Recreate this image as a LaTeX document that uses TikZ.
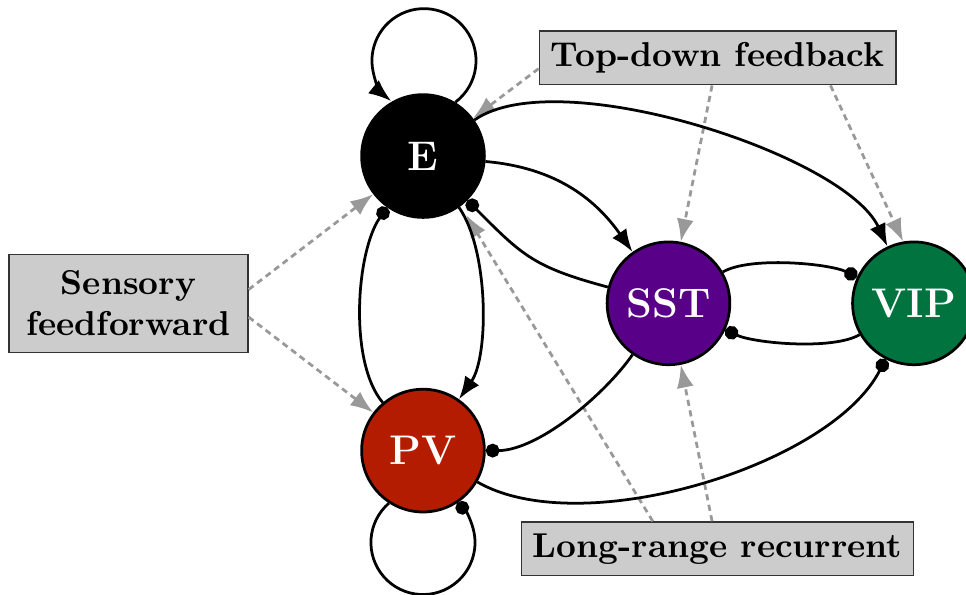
\documentclass[tikz,border=0pt]{standalone}
\usetikzlibrary{arrows.meta,positioning}
\definecolor{pvred}{RGB}{180,28,0}
\definecolor{sstpurple}{RGB}{88,0,136}
\definecolor{vipgreen}{RGB}{0,115,62}

\begin{document}
\begin{tikzpicture}[
  cell/.style={circle,draw,thick,minimum size=1.25cm,inner sep=0pt,text=white,font=\large\bfseries},
  inputbox/.style={draw=black!80,fill=gray!40,font=\bfseries},
  exc/.style={thick,-{Latex}},
  inh/.style={thick,-{Circle[length=4pt]}},
  ext/.style={thick,dash pattern=on 1.8pt off 1.3pt,gray!80,-{Latex}}
]
\useasboundingbox (-4.308,-4.47) rectangle (5.53,1.589);

\node[cell,fill=black] (E) at (0,0) {E};
\node[cell,fill=pvred] (PV) at (0,-3) {PV};
\node[cell,fill=sstpurple] (SST) at (2.5,-1.5) {SST};
\node[cell,fill=vipgreen] (VIP) at (5,-1.5) {VIP};

\node[inputbox,text width=2.2cm,align=center,minimum height=1cm] (sens) at (-3,-1.5) {Sensory\\feedforward};
\node[inputbox] (top) at (3,1) {Top-down feedback};
\node[inputbox] (long) at (3,-4) {Long-range recurrent};

\draw[ext] ([yshift=0.14cm]sens.east) -- (E);
\draw[ext] ([yshift=-0.14cm]sens.east) -- (PV);
\draw[ext] ([yshift=-0.11cm]top.west) -- (E);
\draw[ext] (top) -- (SST);
\draw[ext] ([xshift=1.15cm]top.south) -- (VIP.100);
\draw[ext,shorten >=3pt] ([xshift=-0.66cm]long.north) -- (E.-53);
\draw[ext] (long) -- (SST);

\draw[exc] (E.59) arc[start angle=-53,end angle=231,radius=0.53];
\draw[inh] (PV.-123) arc[start angle=131,end angle=409,radius=0.53];

\foreach \a/\b/\o/\i/\l in {E/SST/-5/125/1, E/VIP/35/115/0.6, E/PV/-55/55/0.7}
  \draw[exc] (\a) to[out=\o,in=\i,looseness=\l] (\b);

\foreach \a/\b/\o/\i/\l in {PV/E/130/-125/0.7, PV/VIP/-30/-117/0.72,
  SST/E/165/-45/1.2, SST/PV/-125/0/0.75, SST/VIP/30/155/0.6, VIP/SST/-150/-25/0.6}
  \draw[inh] (\a) to[out=\o,in=\i,looseness=\l] (\b);

\end{tikzpicture}
\end{document}
